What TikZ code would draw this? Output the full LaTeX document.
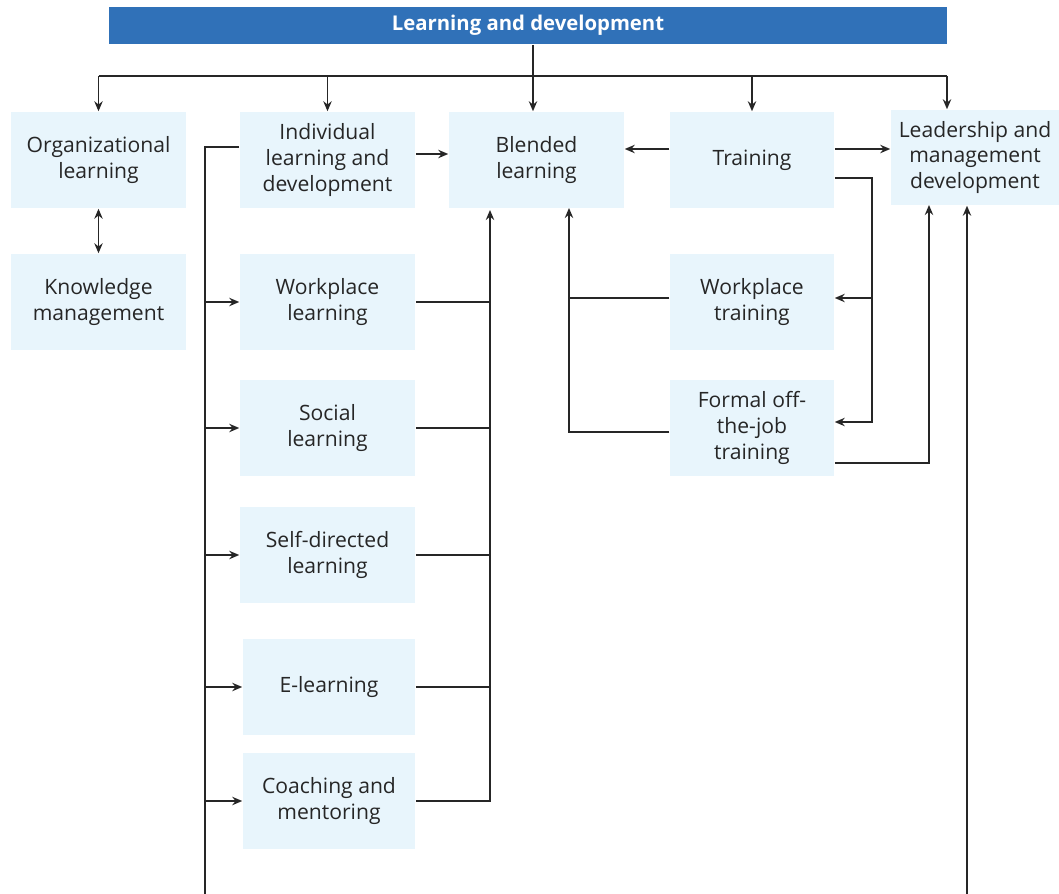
\documentclass[tikz,border=0pt]{standalone}
\usepackage{fontspec}
\setmainfont{Open Sans}
\usetikzlibrary{arrows.meta}
\definecolor{titleblue}{HTML}{3071B8}
\definecolor{boxblue}{HTML}{E8F5FC}
\definecolor{inkgray}{HTML}{262626}
\begin{document}
\begin{tikzpicture}[x=0.5bp, y=-0.5bp, >={Stealth[length=5bp,width=4.2bp]},
    line width=0.75bp, draw=inkgray, text=inkgray,
    box/.style={fill=boxblue, inner sep=0pt, align=center, minimum height=48bp,
        minimum width=87.5bp, font=\fontsize{10.6}{13}\selectfont},
    narrowbox/.style={box, minimum width=82bp}]
		\useasboundingbox (0,0) rectangle (1059,894);
		\node[fill=titleblue, text=white, minimum width=419bp, minimum height=18.5bp, inner sep=0pt,
		    font=\bfseries\fontsize{10.2}{12}\selectfont] (title) at (528,25.5) {Learning and development};
		\node[box] (org) at (98.5,160) {Organizational\\learning};
		\node[box] (indiv) at (327.5,160) {Individual\\learning and\\development};
		\node[box] (blended) at (536.5,160) {Blended\\learning};
		\node[narrowbox] (training) at (752,160) {Training};
		\node[box, minimum width=84bp, minimum height=47.5bp] (leader) at (975,157.5) {Leadership and\\management\\development};
		\node[box] (know) at (98.5,302) {Knowledge\\management};
		\node[box] (wpl) at (327.5,302) {Workplace\\learning};
		\node[box] (social) at (327.5,428) {Social\\learning};
		\node[box] (selfdir) at (327.5,555) {Self-directed\\learning};
		\node[box, minimum width=86bp] (elearn) at (329,687) {E-learning};
		\node[box, minimum width=86bp] (coach) at (329,801) {Coaching and\\mentoring};
		\node[narrowbox] (wpt) at (752,302) {Workplace\\training};
		\node[narrowbox] (formal) at (752,428) {Formal off-\\the-job\\training};
		\coordinate (split) at (533,76);
		\coordinate (lead in) at (947,76);
		\draw[->] (title.south -| split) -- (blended.north -| split);
		\draw (org.north |- split) -- (lead in);
		\draw[->] (org.north |- split) -- (org.north);
		\draw[->] (indiv.north |- split) -- (indiv.north);
		\draw[->] (training.north |- split) -- (training.north);
		\draw[->] (lead in) -- (lead in |- leader.north);
		\draw[<->] (org.south) -- (know.north);
		\draw[->] ([yshift=3bp]indiv.east) -- ([yshift=3bp]blended.west);
		\coordinate (left end) at (205,894);
		\draw ([yshift=6.5bp]indiv.west) -| (left end);
		\foreach \n in {wpl,social,selfdir,elearn,coach}
			\draw[->] (left end |- \n) -- (\n.west);
		\coordinate (mix) at (490,210);
		\draw[->] (coach.east) -| (mix);
		\foreach \n in {wpl,social,selfdir,elearn}
			\draw (\n.east) -- (\n.east -| mix);
		\draw[->] ([yshift=5.5bp]training.west) -- ([yshift=5.5bp]blended.east);
		\draw[->] ([yshift=5.5bp]training.east) -- ([yshift=5.5bp]training.east -| leader.west);
		\coordinate (tr bus) at (872,422);
		\draw[->] ([yshift=-9bp]training.east) -| (tr bus) -- (tr bus -| formal.east);
		\draw[->] ([yshift=2bp]wpt.east -| tr bus) -- ([yshift=2bp]wpt.east);
		\coordinate (tr mix) at (569,208);
		\draw[->] ([yshift=-2bp]formal.west) -| (tr mix);
		\draw ([yshift=2bp]wpt.west) -- ([yshift=2bp]wpt.west -| tr mix);
		\coordinate (lead a) at (929,205);
		\draw[->] ([yshift=-17.5bp]formal.east) -| (lead a);
		\coordinate (right end) at (967,894);
		\draw[->] (right end) -- (right end |- leader.south);
	\end{tikzpicture}
\end{document}
